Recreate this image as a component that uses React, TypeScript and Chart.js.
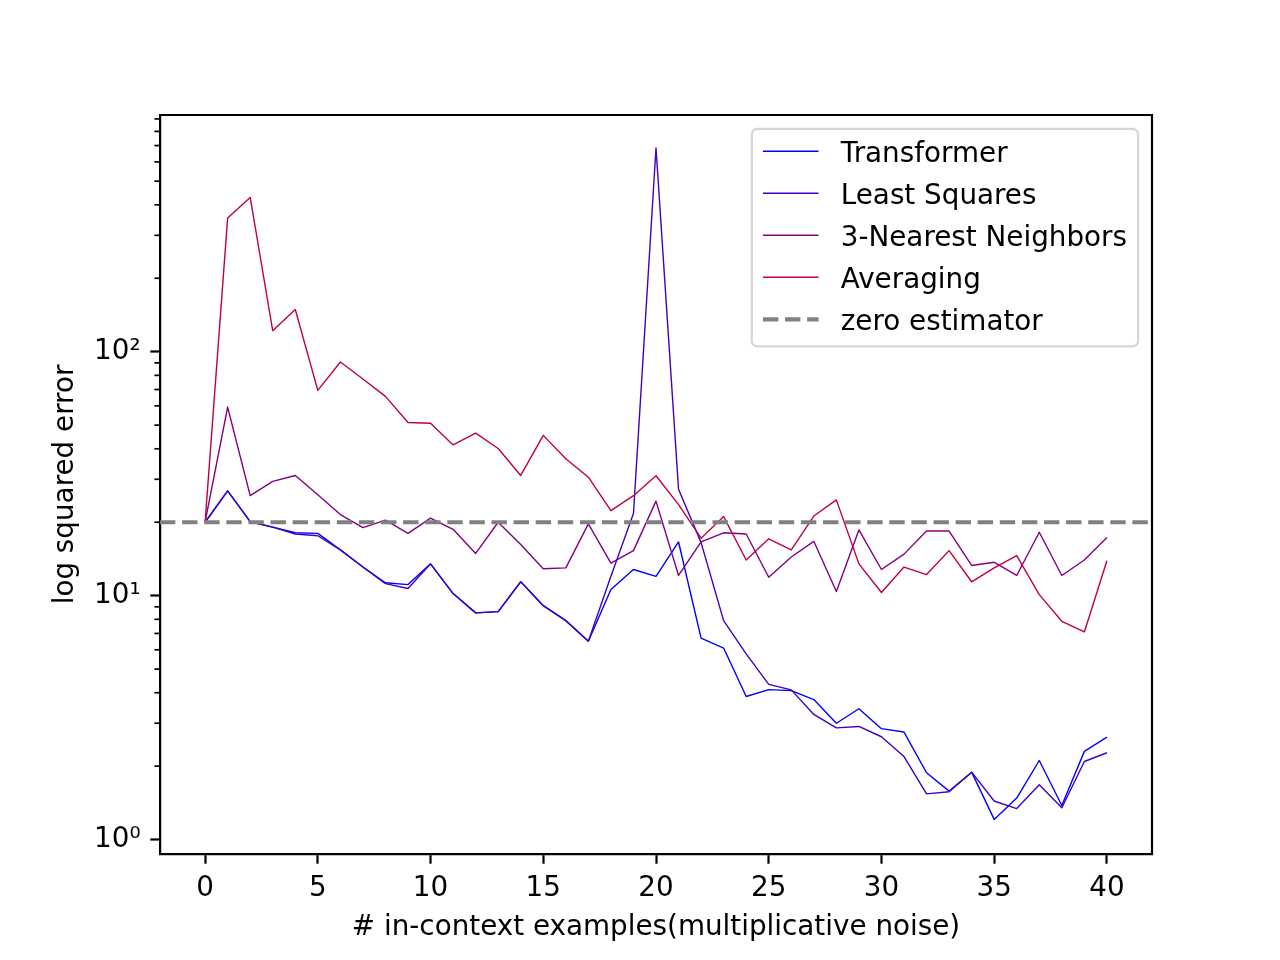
import { useEffect, useRef } from "react"
import { Chart, registerables } from "chart.js"

Chart.register(...registerables)

const xValues = [
  0, 1, 2, 3, 4, 5, 6, 7, 8, 9, 10, 11, 12, 13, 14, 15, 16, 17, 18, 19, 20,
  21, 22, 23, 24, 25, 26, 27, 28, 29, 30, 31, 32, 33, 34, 35, 36, 37, 38, 39, 40,
]

const transformer = [
  20, 26.9, 20.1, 19.1, 18.1, 18.0, 15.4, 13.1, 11.3, 11.1, 13.5, 10.2, 8.5, 8.6,
  11.4, 9.1, 7.9, 6.5, 10.6, 12.8, 12.0, 16.6, 6.7, 6.1, 3.86, 4.12, 4.08, 3.75,
  3.0, 3.44, 2.85, 2.76, 1.88, 1.58, 1.89, 1.21, 1.48, 2.11, 1.38, 2.3, 2.63,
]

const leastSquares = [
  20, 26.9, 20.1, 19.1, 17.9, 17.6, 15.4, 13.1, 11.2, 10.7, 13.5, 10.2, 8.5, 8.6,
  11.4, 9.1, 7.9, 6.5, 12.0, 21.7, 684, 27.3, 16.5, 7.9, 5.77, 4.33, 4.11, 3.26,
  2.87, 2.91, 2.64, 2.19, 1.54, 1.57, 1.89, 1.44, 1.34, 1.68, 1.35, 2.09, 2.27,
]

const nearestNeighbors = [
  20, 59.3, 25.7, 29.4, 31.1, 25.9, 21.5, 19.0, 20.4, 18.0, 20.8, 18.7, 14.9, 20.0,
  16.2, 12.9, 13.0, 19.7, 13.6, 15.3, 24.4, 12.1, 16.6, 18.1, 17.9, 11.9, 14.4, 16.7,
  10.4, 18.6, 12.8, 14.8, 18.4, 18.4, 13.3, 13.7, 12.1, 18.2, 12.1, 14.0, 17.3,
]

const averaging = [
  20, 353, 429, 122, 149, 69.4, 90.7, 77.3, 65.6, 51.3, 50.9, 41.5, 46.4, 40.1,
  31.1, 45.4, 36.4, 30.6, 22.3, 25.7, 31.0, 23.6, 17.2, 21.1, 14.0, 17.1, 15.4, 21.2,
  24.7, 13.5, 10.3, 13.1, 12.2, 15.3, 11.4, 13.0, 14.6, 10.1, 7.85, 7.1, 13.9,
]

const zeroEstimator = 20

const xTicks = [0, 5, 10, 15, 20, 25, 30, 35, 40]
const yTicks = [1, 10, 100]
const yTickLabels = ["10⁰", "10¹", "10²"]
const yMinorSteps = [2, 3, 4, 5, 6, 7, 8, 9]

const FONT = "DejaVu Sans"
const FS = 27.8 // 10pt at 200 dpi

const series = [
  { label: "Transformer", data: transformer, color: "rgb(0, 0, 255)" },
  { label: "Least Squares", data: leastSquares, color: "rgb(64, 0, 191)" },
  { label: "3-Nearest Neighbors", data: nearestNeighbors, color: "rgb(128, 0, 128)" },
  { label: "Averaging", data: averaging, color: "rgb(191, 0, 64)" },
]

const zeroStyle = { label: "zero estimator", color: "#808080", width: 4.2, dash: [15.4, 6.7] }

// spines on top and right, minor ticks on the log axis, the dashed zero line and the legend box
const extrasPlugin = {
  id: "extras",
  afterDatasetsDraw(chart: any) {
    const { ctx, chartArea } = chart
    const y = chart.scales.y
    const py = y.getPixelForValue(zeroEstimator)
    ctx.save()
    ctx.beginPath()
    ctx.rect(chartArea.left, chartArea.top, chartArea.right - chartArea.left, chartArea.bottom - chartArea.top)
    ctx.clip()
    ctx.strokeStyle = zeroStyle.color
    ctx.lineWidth = zeroStyle.width
    ctx.setLineDash(zeroStyle.dash)
    ctx.beginPath()
    ctx.moveTo(chartArea.left, py)
    ctx.lineTo(chartArea.right, py)
    ctx.stroke()
    ctx.restore()
  },
  afterDraw(chart: any) {
    const { ctx, chartArea } = chart
    const y = chart.scales.y
    ctx.save()
    // minor ticks
    ctx.strokeStyle = "#000"
    ctx.lineWidth = 1.7
    for (const decade of yTicks) {
      for (const m of yMinorSteps) {
        const v = decade * m
        if (v < y.min || v > y.max) continue
        const p = y.getPixelForValue(v)
        ctx.beginPath()
        ctx.moveTo(chartArea.left, p)
        ctx.lineTo(chartArea.left - 5.6, p)
        ctx.stroke()
      }
    }
    // top and right spines
    ctx.lineWidth = 2.2
    ctx.beginPath()
    ctx.moveTo(chartArea.left - 1.1, chartArea.top)
    ctx.lineTo(chartArea.right, chartArea.top)
    ctx.lineTo(chartArea.right, chartArea.bottom + 1.1)
    ctx.stroke()

    // legend
    ctx.font = `${FS}px "${FONT}"`
    const entries = [
      ...series.map((s) => ({ label: s.label, color: s.color, width: 1.4, dash: [] as number[] })),
      zeroStyle,
    ]
    const textW = Math.max(...entries.map((e) => ctx.measureText(e.label).width))
    const pad = 0.4 * FS
    const handle = 2 * FS
    const gap = 0.8 * FS
    const rowStep = 42
    const boxW = pad + handle + gap + textW + pad
    const boxH = 217.5
    const right = chartArea.right - 0.5 * FS
    const left = right - boxW
    const top = chartArea.top + 0.5 * FS
    const r = 5.5
    ctx.beginPath()
    ctx.roundRect(left, top, boxW, boxH, r)
    ctx.fillStyle = "rgba(255,255,255,0.8)"
    ctx.fill()
    ctx.strokeStyle = "rgba(204,204,204,0.8)"
    ctx.lineWidth = 2.2
    ctx.stroke()
    entries.forEach((e, i) => {
      const cy = top + 22.4 + i * rowStep
      ctx.strokeStyle = e.color
      ctx.lineWidth = e.width
      ctx.setLineDash(e.dash)
      ctx.beginPath()
      ctx.moveTo(left + pad, cy)
      ctx.lineTo(left + pad + handle, cy)
      ctx.stroke()
      ctx.setLineDash([])
      ctx.fillStyle = "#000"
      ctx.textAlign = "left"
      ctx.textBaseline = "alphabetic"
      ctx.fillText(e.label, left + pad + handle + gap, cy + 10.8)
    })
    ctx.restore()
  },
}

export default function App() {
  const chartRef = useRef<HTMLCanvasElement>(null)
  const chartInstance = useRef<Chart | null>(null)

  useEffect(() => {
    if (!chartRef.current) return
    if (chartInstance.current) chartInstance.current.destroy()
    const ctx = chartRef.current.getContext("2d")
    if (!ctx) return

    Chart.defaults.font.family = FONT
    Chart.defaults.color = "#000"

    chartInstance.current = new Chart(ctx, {
      type: "line",
      data: {
        labels: xValues,
        datasets: series.map((s, i) => ({
          label: s.label,
          data: s.data.map((v, k) => ({ x: xValues[k], y: v })),
          borderColor: s.color,
          backgroundColor: s.color,
          borderWidth: 1.4,
          pointRadius: 0,
          tension: 0,
          fill: false,
          borderJoinStyle: "round",
          order: series.length - i,
        })),
      },
      options: {
        animation: false,
        responsive: true,
        maintainAspectRatio: false,
        devicePixelRatio: 1,
        layout: { padding: { left: 0, top: 115, right: 128, bottom: 0 } },
        plugins: {
          legend: { display: false },
          tooltip: { enabled: false },
        },
        scales: {
          x: {
            type: "linear",
            min: -2,
            max: 42,
            afterBuildTicks: (scale: any) => {
              scale.ticks = xTicks.map((v) => ({ value: v }))
            },
            afterFit: (scale: any) => {
              scale.height = 106
            },
            grid: {
              drawOnChartArea: false,
              drawTicks: true,
              tickLength: 9.7,
              tickColor: "#000",
              tickWidth: 2.2,
            },
            border: { display: true, color: "#000", width: 2.2 },
            ticks: {
              font: { size: FS, family: FONT },
              color: "#000",
              padding: 8,
              maxRotation: 0,
              autoSkip: false,
            },
            title: {
              display: true,
              text: "# in-context examples(multiplicative noise)",
              font: { size: FS, family: FONT },
              color: "#000",
              padding: { top: 0, bottom: 16 },
            },
          },
          y: {
            type: "logarithmic",
            min: 0.873,
            max: 934,
            afterBuildTicks: (scale: any) => {
              scale.ticks = yTicks.map((v) => ({ value: v }))
            },
            afterFit: (scale: any) => {
              scale.width = 160
            },
            grid: {
              drawOnChartArea: false,
              drawTicks: true,
              tickLength: 9.7,
              tickColor: "#000",
              tickWidth: 2.2,
            },
            border: { display: true, color: "#000", width: 2.2 },
            ticks: {
              font: { size: FS, family: FONT },
              color: "#000",
              padding: 9.7,
              autoSkip: false,
              callback: (value: any) => {
                const idx = yTicks.indexOf(Number(value))
                return idx >= 0 ? yTickLabels[idx] : ""
              },
            },
            title: {
              display: true,
              text: "log squared error",
              font: { size: FS, family: FONT },
              color: "#000",
              padding: { top: 49, bottom: 0 },
            },
          },
        },
      },
      plugins: [extrasPlugin],
    } as any)

    return () => {
      if (chartInstance.current) {
        chartInstance.current.destroy()
        chartInstance.current = null
      }
    }
  }, [])

  return (
    <div style={{ position: "absolute", left: 0, top: 0, width: 1280, height: 960, background: "#fff" }}>
      <canvas ref={chartRef} />
    </div>
  )
}
